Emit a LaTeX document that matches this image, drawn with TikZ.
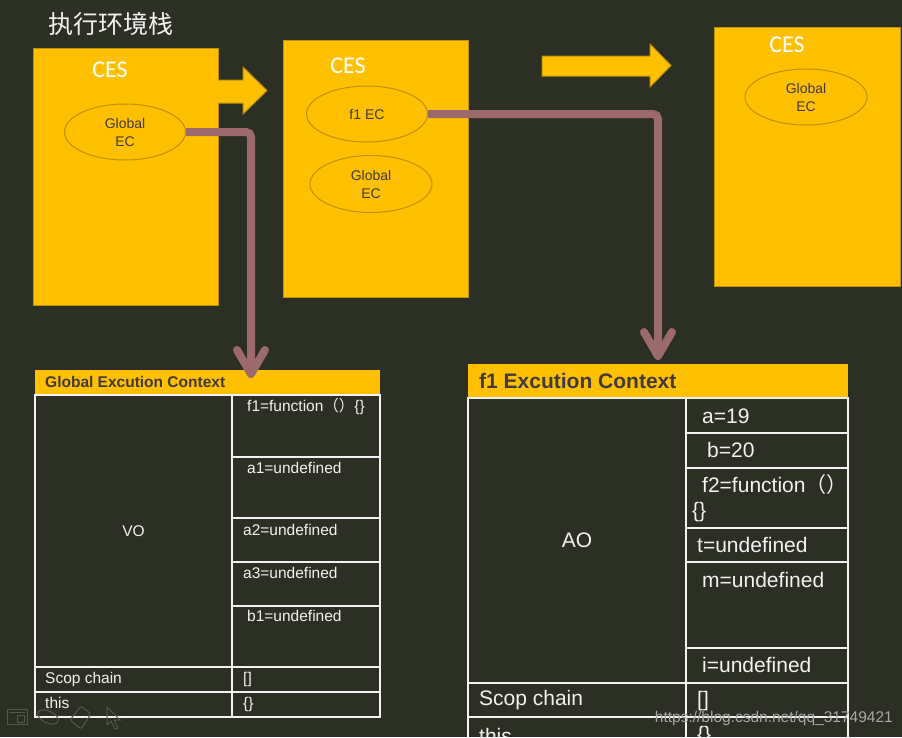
\documentclass[tikz,border=0pt]{standalone}
\usepackage{fontspec}
\setmainfont{Liberation Sans}
\newfontfamily\calfont{Carlito}
\newfontfamily\cjk{Noto Sans CJK SC}
\usetikzlibrary{shapes.geometric,arrows.meta}
\definecolor{bg}{HTML}{2C2F23}
\definecolor{yel}{HTML}{FFC000}
\definecolor{gold}{HTML}{BF9000}
\definecolor{conn}{HTML}{9C6A6B}
\definecolor{dtext}{HTML}{423A3A}
\definecolor{ltext}{HTML}{F2F2F2}
\definecolor{icon}{HTML}{55584C}
\definecolor{wmark}{HTML}{A8A8A8}
\tikzset{
  cesbox/.style={draw=gold, fill=yel, line width=1pt, inner sep=0pt},
  ceslabel/.style={text=white, font=\calfont\fontsize{24}{26}\selectfont, inner sep=0pt},
  ec/.style={ellipse, draw=gold, fill=yel, line width=1pt, inner sep=0pt,
    minimum width=121pt, minimum height=56pt, align=center, text=dtext,
    font=\fontsize{14}{18}\selectfont},
  blockarr/.style={draw=gold, fill=yel, line width=1pt, line join=miter},
  flow/.style={draw=conn, line width=8pt, rounded corners=5pt,
    -{Straight Barb[length=24pt,width=28pt,line cap=round,line join=round]}},
  headbar/.style={fill=yel, draw=none, inner sep=0pt},
  headtxt/.style={text=dtext, inner sep=0pt, anchor=west},
  cell/.style={draw=ltext, line width=1.3pt, inner sep=0pt},
  gtxt/.style={text=ltext, font=\fontsize{15.5}{18}\selectfont, inner sep=0pt, anchor=west},
  ftxt/.style={text=ltext, font=\fontsize{21}{24}\selectfont, inner sep=0pt, anchor=west},
  iconln/.style={draw=icon, line width=1pt},
}
\begin{document}
\begin{tikzpicture}[x=1pt,y=-1pt]
\path[use as bounding box, fill=bg] (0,0) rectangle (902,737);
\clip (0,0) rectangle (902,737);

% title
\node[text=ltext, font=\cjk\fontsize{25}{28}\selectfont, inner sep=0pt, anchor=west] (title) at (48,24) {执行环境栈};

% CES boxes
\node[cesbox, minimum width=185pt, minimum height=257pt] (ces1) at (125.5,176.5) {};
\node[cesbox, minimum width=185pt, minimum height=257pt] (ces2) at (375.5,168.5) {};
\node[cesbox, minimum width=186pt, minimum height=259pt] (ces3) at (807,156.5) {};
\node[ceslabel] (l1) at (110,70) {CES};
\node[ceslabel] (l2) at (348,66) {CES};
\node[ceslabel] (l3) at (787,45) {CES};

% block arrows
\draw[blockarr] (218,80) -- (243,80) -- (243,67) -- (267,90.5) -- (243,114) -- (243,103) -- (218,103);
\draw[blockarr] (542,56) -- (650,56) -- (650,44) -- (671,65.5) -- (650,87) -- (650,76) -- (542,76) -- cycle;

% ellipses
\node[ec] (e1) at (125,132) {Global\\EC};
\node[ec] (e2) at (367,114) {f1 EC};
\node[ec, minimum width=122pt, minimum height=57pt] (e3) at (371,184) {Global\\EC};
\node[ec, minimum width=122pt] (e4) at (806,97) {Global\\EC};

% Global execution context table
\node[headbar, minimum width=345pt, minimum height=25pt] (gh) at (207.5,382.5) {};
\node[headtxt, font=\bfseries\fontsize{15.5}{18}\selectfont] (ght) at (45,382) {Global Excution Context};
\node[cell, minimum width=197pt, minimum height=272pt, text=ltext, font=\fontsize{15.5}{18}\selectfont] (gvo) at (133.5,531) {VO};
\node[cell, minimum width=148pt, minimum height=62pt] (gc1) at (306,426) {};
\node[cell, minimum width=148pt, minimum height=61pt] (gc2) at (306,487.5) {};
\node[cell, minimum width=148pt, minimum height=44pt] (gc3) at (306,540) {};
\node[cell, minimum width=148pt, minimum height=44pt] (gc4) at (306,584) {};
\node[cell, minimum width=148pt, minimum height=61pt] (gc5) at (306,636.5) {};
\node[cell, minimum width=197pt, minimum height=25pt] (gs1) at (133.5,679.5) {};
\node[cell, minimum width=148pt, minimum height=25pt] (gs2) at (306,679.5) {};
\node[cell, minimum width=197pt, minimum height=25pt] (gt1) at (133.5,704.5) {};
\node[cell, minimum width=148pt, minimum height=25pt] (gt2) at (306,704.5) {};
\node[gtxt] (gx1) at (247,406) {f1=function{\cjk （）}\{\}};
\node[gtxt] (gx2) at (247,468) {a1=undefined};
\node[gtxt] (gx3) at (243,530) {a2=undefined};
\node[gtxt] (gx4) at (243,573) {a3=undefined};
\node[gtxt] (gx5) at (247,616) {b1=undefined};
\node[gtxt] (gx6) at (45,679) {Scop chain};
\node[gtxt] (gx7) at (243,679) {[]};
\node[gtxt] (gx8) at (45,703) {this};
\node[gtxt] (gx9) at (243,704) {\{\}};

% f1 execution context table
\node[headbar, minimum width=380pt, minimum height=34pt] (fh) at (658,381) {};
\node[headtxt, font=\bfseries\fontsize{21}{24}\selectfont] (fht) at (479,381) {f1 Excution Context};
\node[cell, minimum width=218pt, minimum height=285pt, text=ltext, font=\fontsize{21}{24}\selectfont] (fao) at (577,540.5) {AO};
\node[cell, minimum width=162pt, minimum height=35pt] (fa) at (767,415.5) {};
\node[cell, minimum width=162pt, minimum height=35pt] (fb) at (767,450.5) {};
\node[cell, minimum width=162pt, minimum height=60pt] (ff) at (767,498) {};
\node[cell, minimum width=162pt, minimum height=34pt] (ft) at (767,545) {};
\node[cell, minimum width=162pt, minimum height=86pt] (fm) at (767,605) {};
\node[cell, minimum width=162pt, minimum height=35pt] (fi) at (767,665.5) {};
\node[cell, minimum width=218pt, minimum height=34pt] (fs1) at (577,700) {};
\node[cell, minimum width=162pt, minimum height=34pt] (fs2) at (767,700) {};
\node[cell, minimum width=218pt, minimum height=34pt] (ft1) at (577,734) {};
\node[cell, minimum width=162pt, minimum height=34pt] (ft2) at (767,734) {};
\node[ftxt] (fx1) at (702,416) {a=19};
\node[ftxt] (fx2) at (707,450) {b=20};
\node[ftxt] (fx3) at (702,485) {f2=function{\cjk （）}};
\node[ftxt] (fx4) at (692,512) {\{\}};
\node[ftxt] (fx5) at (697,545) {t=undefined};
\node[ftxt] (fx6) at (702,580) {m=undefined};
\node[ftxt] (fx7) at (702,665) {i=undefined};
\node[ftxt] (fx8) at (479,700) {Scop chain};
\node[ftxt] (fx9) at (697,701) {[]};
\node[ftxt] (fx10) at (479,736) {this};
\node[ftxt] (fx11) at (697,736) {\{\}};

% connectors
\coordinate (tip1) at (251,378);
\coordinate (tip2) at (658,360);
\draw[flow] (e1.east) -| (tip1);
\draw[flow] (e2.east) -| (tip2);

% watermark
\node[text=wmark, font=\fontsize{15.5}{18}\selectfont, inner sep=0pt, anchor=east] (wm) at (893,718) {https://blog.csdn.net/qq\_31749421};

% toolbar icons
\draw[iconln] (7,709) rectangle (27,724);
\draw[iconln] (9,712) -- (25,712);
\draw[iconln] (17,715) rectangle (24,722);
\draw[iconln, rotate around={-25:(48,717)}] (48,717) ellipse (11 and 6);
\draw[iconln, rounded corners=2pt] (81,706) -- (91,714) -- (81,729) -- (70,720) -- cycle;
\draw[iconln] (107,707) -- (107,725) -- (111,721) -- (115,729) -- (118,728) -- (114,720) -- (120,720) -- cycle;
\end{tikzpicture}
\end{document}
